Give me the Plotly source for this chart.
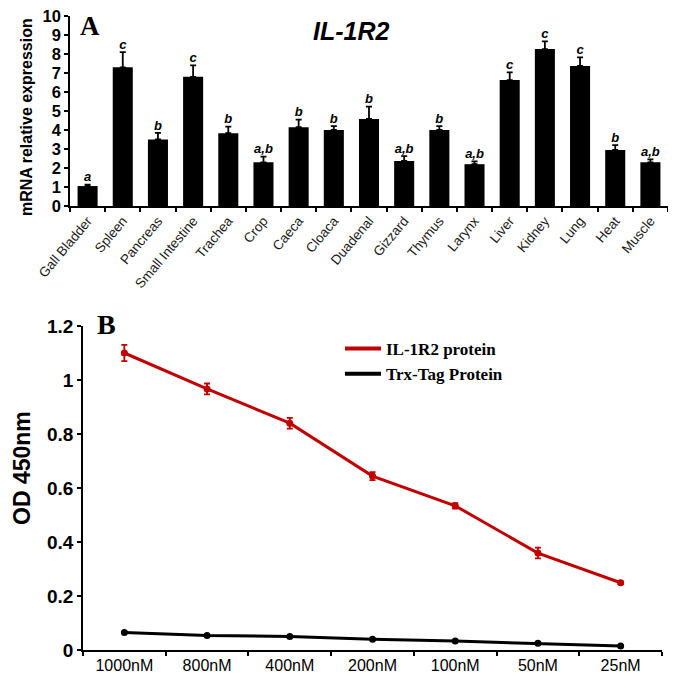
import plotly.graph_objects as go

tissues = ["Gall Bladder", "Spleen", "Pancreas", "Small Intestine", "Trachea", "Crop",
           "Caeca", "Cloaca", "Duadenal", "Gizzard", "Thymus", "Larynx", "Liver",
           "Kidney", "Lung", "Heat", "Muscle"]
expr = [1.05, 7.3, 3.5, 6.8, 3.83, 2.3, 4.15, 4.0, 4.58, 2.37, 4.0, 2.2, 6.63, 8.26, 7.37, 2.95, 2.3]
expr_err = [0.08, 0.8, 0.35, 0.6, 0.35, 0.3, 0.4, 0.2, 0.65, 0.25, 0.2, 0.15, 0.4, 0.4, 0.45, 0.25, 0.15]
letters = ["a", "c", "b", "c", "b", "a,b", "b", "b", "b", "a,b", "b", "a,b", "c", "c", "c", "b", "a,b"]

concs = ["1000nM", "800nM", "400nM", "200nM", "100nM", "50nM", "25nM"]
il1r2 = [1.10, 0.967, 0.84, 0.644, 0.534, 0.359, 0.249]
il1r2_err = [0.03, 0.02, 0.02, 0.015, 0.01, 0.02, 0.005]
trx = [0.065, 0.054, 0.05, 0.04, 0.033, 0.025, 0.015]

RED = "#c00000"
OFF = 8  # page body margin
W, H = 676 - OFF, 682 - OFF
def px(x): return (x - OFF) / W
def py(y): return 1 - (y - OFF) / H

fig = go.Figure()

# Panel A
fig.add_trace(go.Bar(
    x=tissues, y=expr, marker=dict(color="black", line=dict(width=0)), width=0.57,
    error_y=dict(type="data", array=expr_err, arrayminus=[0]*len(expr), symmetric=False,
                 color="black", thickness=1.8, width=3),
    xaxis="x", yaxis="y", showlegend=False))
fig.add_trace(go.Scatter(
    x=tissues, y=[v + e for v, e in zip(expr, expr_err)], mode="text",
    text=[f"<b><i>{l}</i></b>" for l in letters], textposition="top center",
    textfont=dict(family="Arial", size=13, color="black"),
    xaxis="x", yaxis="y", showlegend=False, cliponaxis=False))

# Panel B
fig.add_trace(go.Scatter(
    x=concs, y=il1r2, mode="lines+markers", showlegend=False,
    line=dict(color=RED, width=3), marker=dict(color=RED, size=7),
    error_y=dict(type="data", array=il1r2_err, color=RED, thickness=1.8, width=3),
    xaxis="x2", yaxis="y2"))
fig.add_trace(go.Scatter(
    x=concs, y=trx, mode="lines+markers", showlegend=False,
    line=dict(color="black", width=3), marker=dict(color="black", size=7),
    xaxis="x2", yaxis="y2"))
# legend-only entries (line symbols)
fig.add_trace(go.Scatter(x=[None], y=[None], mode="lines", name="<b>IL-1R2 protein</b>",
                         line=dict(color=RED, width=4), xaxis="x2", yaxis="y2"))
fig.add_trace(go.Scatter(x=[None], y=[None], mode="lines", name="<b>Trx-Tag Protein</b>",
                         line=dict(color="black", width=4), xaxis="x2", yaxis="y2"))

axis_common = dict(showline=True, linecolor="black", linewidth=1.5, showgrid=False,
                   zeroline=False, ticks="outside", tickcolor="black", ticklen=4,
                   tickwidth=1.5, automargin=False, ticklabeloverflow="allow")

fig.update_layout(
    width=W, height=H, margin=dict(l=0, r=0, t=0, b=0),
    paper_bgcolor="white", plot_bgcolor="white",
    xaxis=dict(domain=[px(70), px(668)], anchor="y", type="category",
               range=[-0.5, 16.5], tickson="boundaries", tickangle=-50,
               tickfont=dict(family="Arial", size=13.5, color="#1a1a1a"), **axis_common),
    yaxis=dict(domain=[py(206), py(16)], anchor="x", range=[0, 10], dtick=1,
               tickfont=dict(family="Arial", size=16.5, color="black"),
               tickprefix="<b>", ticksuffix="</b>", **axis_common),
    xaxis2=dict(domain=[px(83), px(662)], anchor="y2", type="category",
                range=[-0.5, 6.5], tickson="boundaries",
                tickfont=dict(family="Arial", size=16, color="black"), **axis_common),
    yaxis2=dict(domain=[py(650), py(326)], anchor="x2", range=[0, 1.2], dtick=0.2,
                tickfont=dict(family="Arial", size=19, color="black"),
                tickprefix="<b>", ticksuffix="</b>", **axis_common),
    legend=dict(x=px(340), y=py(331), xanchor="left", yanchor="top",
                font=dict(family="Times New Roman, Liberation Serif", size=17, color="black"),
                bgcolor="rgba(0,0,0,0)", tracegroupgap=0, itemwidth=36),
    annotations=[
        dict(text="<b>mRNA relative expression</b>", x=px(27), y=py(117), xref="paper",
             yref="paper", xanchor="center", yanchor="middle", textangle=-90,
             showarrow=False, font=dict(family="Arial", size=16, color="black")),
        dict(text="<b>OD 450nm</b>", x=px(22), y=py(468), xref="paper",
             yref="paper", xanchor="center", yanchor="middle", textangle=-90,
             showarrow=False, font=dict(family="Arial", size=23, color="black")),
        dict(text="<b>A</b>", x=px(78), y=py(9), xref="paper", yref="paper",
             xanchor="left", yanchor="top", showarrow=False,
             font=dict(family="Times New Roman, Liberation Serif", size=27, color="black")),
        dict(text="<b><i>IL-1R2</i></b>", x=px(351), y=py(31), xref="paper", yref="paper",
             xanchor="center", yanchor="middle", showarrow=False,
             font=dict(family="Arial", size=25, color="black")),
        dict(text="<b>B</b>", x=px(95), y=py(307), xref="paper", yref="paper",
             xanchor="left", yanchor="top", showarrow=False,
             font=dict(family="Times New Roman, Liberation Serif", size=28, color="black")),
    ],
)

fig.write_html("out.html")
